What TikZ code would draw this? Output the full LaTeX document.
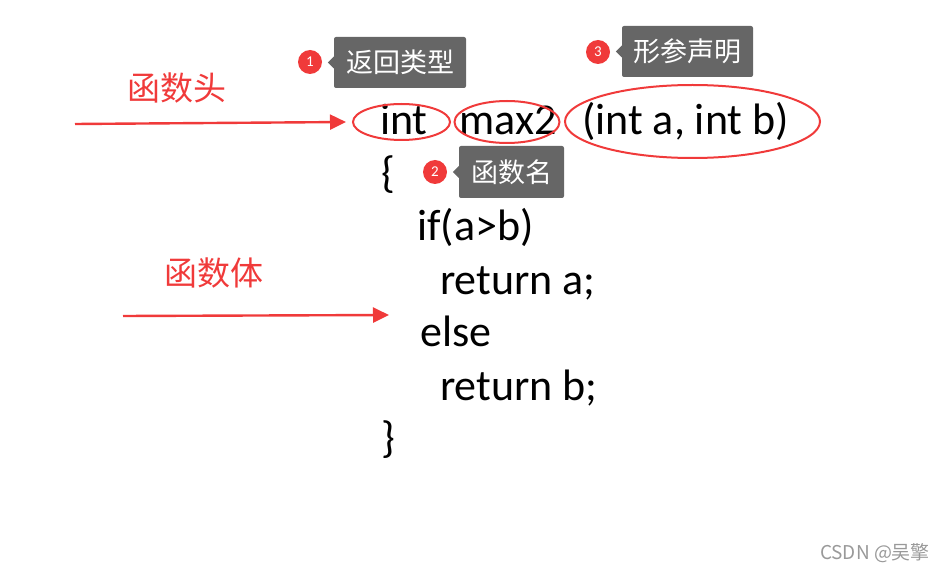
\documentclass[tikz,border=0pt]{standalone}
\usepackage{fontspec}
\setmainfont{Carlito}
\newfontfamily\cjkfont{Noto Sans CJK SC}
\usetikzlibrary{shapes.geometric,arrows.meta}
\definecolor{markred}{RGB}{240,58,58}
\definecolor{tipgray}{RGB}{102,102,102}
\newcommand{\tagtip}[1]{\fill[tipgray] ([yshift=6]#1.west) -- ([xshift=-6]#1.west) -- ([yshift=-6]#1.west) -- cycle;}
\begin{document}
\begin{tikzpicture}[x=1pt,y=-1pt,
  code/.style={anchor=base west, inner sep=0, font=\fontsize{44}{52}\selectfont},
  ring/.style={ellipse, draw=markred, line width=2},
  tagbox/.style={fill=tipgray, rounded corners=2, text=white, inner sep=0, font=\cjkfont\fontsize{27}{32}\selectfont},
  badge/.style={circle, fill=markred, text=white, minimum size=24, inner sep=0, font=\fontsize{15}{17}\selectfont},
  part/.style={text=markred, inner sep=0, font=\cjkfont\fontsize{33}{38}\selectfont},
  pointer/.style={markred, line width=2.4, -{Triangle[length=16,width=15]}}]
\useasboundingbox (0,0) rectangle (946,572);
\node[code] (kw) at (380,135) {int};
\node[code] (fname) at (459,135) {max2};
\node[code] (params) at (582,135) {(int a, int b)};
\node[code] (lbrace) at (381,188) {\{};
\node[code] (cond) at (417,241) {if(a>b)};
\node[code] (reta) at (440,295) {return a;};
\node[code] (els) at (420,347) {else};
\node[code] (retb) at (440,400) {return b;};
\node[code] (rbrace) at (381,452) {\}};
\node[ring, minimum width=97, minimum height=36] (ellint) at (401.5,122) {};
\node[ring, minimum width=105, minimum height=42] (ellname) at (507,122) {};
\node[ring, minimum width=255, minimum height=73] (ellparam) at (692.5,121.5) {};
\node[tagbox, minimum width=132, minimum height=51] (tagtype) at (400,62.5) {返回类型};
\node[tagbox, minimum width=105, minimum height=52] (tagname) at (511.5,172) {函数名};
\node[tagbox, minimum width=131, minimum height=51] (tagparam) at (687.5,51.5) {形参声明};
\tagtip{tagtype}
\tagtip{tagname}
\tagtip{tagparam}
\node[badge] (b1) at (310,62) {1};
\node[badge] (b2) at (435,172) {2};
\node[badge] (b3) at (598,52) {3};
\node[part] (head) at (176.5,88) {函数头};
\node[part] (body) at (213.5,273) {函数体};
\coordinate (headtail) at (75,124);
\coordinate (bodytail) at (123,316);
\coordinate (bodytip) at (389,315);
\draw[pointer] (headtail) -- ([xshift=-6]ellint.west);
\draw[pointer] (bodytail) -- (bodytip);
\node[text=black!40, font=\cjkfont\fontsize{19}{22}\selectfont] (mark) at (875,553) {CSDN @吴擎};
\end{tikzpicture}
\end{document}
